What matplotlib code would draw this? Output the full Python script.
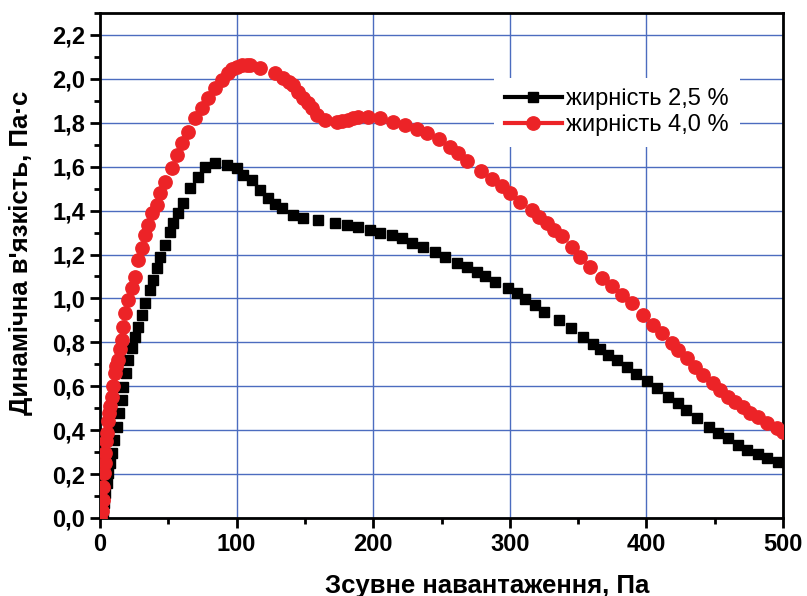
import matplotlib.pyplot as plt
from matplotlib.lines import Line2D
from matplotlib.ticker import MultipleLocator, FuncFormatter

# shear stress, Pa / dynamic viscosity, Pa*s  (fat 2.5 %)
x_25 = [0, 2.2, 2.9, 3.7, 5.1, 5.9, 7.3, 8.8, 10.2, 12.4, 13.9, 16.1, 16.8, 19.0,
        20.5, 23.4, 25.6, 27.8, 30.7, 33.0, 36.6, 38.8, 41.7, 43.9, 47.6, 51.2,
        53.4, 57.0, 60.8, 65.9, 71.7, 76.9, 84.2, 93.0, 100.3, 104.7, 111.3,
        117.1, 123.0, 128.0, 133.0, 141.0, 148.6, 159.6, 172.0, 180.8, 188.9,
        197.7, 205.0, 213.8, 221.0, 228.4, 236.5, 245.2, 252.6, 261.3, 268.7,
        276.0, 281.8, 289.2, 298.7, 305.3, 311.0, 318.4, 325.0, 336.0, 344.8,
        353.6, 361.0, 366.0, 371.9, 378.5, 385.8, 392.4, 400.4, 407.8, 415.8,
        423.1, 429.0, 437.0, 445.8, 452.4, 459.7, 467.0, 473.6, 481.7, 488.3,
        496.3]
y_25 = [0, 0.023, 0.068, 0.114, 0.16, 0.205, 0.25, 0.296, 0.355, 0.415, 0.478,
        0.538, 0.597, 0.66, 0.72, 0.774, 0.825, 0.87, 0.925, 0.98, 1.039, 1.084,
        1.139, 1.19, 1.244, 1.303, 1.344, 1.39, 1.435, 1.503, 1.554, 1.599, 1.617,
        1.608, 1.594, 1.563, 1.54, 1.494, 1.458, 1.43, 1.41, 1.38, 1.367, 1.358,
        1.344, 1.335, 1.326, 1.312, 1.298, 1.289, 1.276, 1.253, 1.235, 1.212,
        1.19, 1.162, 1.144, 1.121, 1.103, 1.075, 1.048, 1.025, 0.998, 0.97,
        0.939, 0.902, 0.866, 0.825, 0.793, 0.77, 0.743, 0.72, 0.688, 0.656,
        0.624, 0.592, 0.551, 0.524, 0.492, 0.456, 0.415, 0.387, 0.364, 0.333,
        0.31, 0.292, 0.273, 0.255]

# fat 4.0 %
x_40 = [0, 1.5, 2.0, 2.5, 2.9, 3.5, 4.0, 4.4, 5.0, 5.9, 6.5, 7.5, 8.8, 9.8, 11.0,
        12.0, 13.2, 14.5, 16.1, 16.8, 18.3, 20.5, 23.4, 25.6, 27.8, 30.7, 33.0,
        35.1, 38.0, 41.7, 43.9, 47.6, 52.7, 56.4, 60.0, 64.4, 69.5, 74.7, 79.0,
        84.2, 89.3, 93.7, 97.0, 100.3, 104.0, 107.6, 110.0, 117.1, 128.0, 134.0,
        138.0, 141.3, 145.0, 148.6, 152.0, 155.2, 158.9, 164.7, 173.5, 177.5,
        181.6, 185.0, 188.9, 196.2, 205.0, 214.5, 223.3, 232.0, 239.4, 248.2,
        256.2, 262.1, 268.7, 278.9, 287.0, 294.3, 300.1, 307.5, 316.3, 321.4,
        327.2, 332.4, 338.2, 345.5, 351.4, 358.7, 367.5, 374.8, 382.1, 389.5,
        397.5, 404.8, 411.4, 418.7, 423.1, 429.7, 435.6, 441.4, 448.8, 453.9,
        459.7, 464.9, 470.7, 475.8, 481.7, 488.3, 495.6, 500.0]
y_40 = [0, 0.03, 0.08, 0.14, 0.205, 0.25, 0.296, 0.35, 0.387, 0.44, 0.478, 0.51,
        0.55, 0.6, 0.66, 0.69, 0.72, 0.77, 0.81, 0.87, 0.934, 0.993, 1.048,
        1.098, 1.175, 1.23, 1.289, 1.335, 1.39, 1.426, 1.48, 1.531, 1.594, 1.654,
        1.708, 1.758, 1.822, 1.868, 1.913, 1.959, 1.995, 2.027, 2.045, 2.055,
        2.062, 2.064, 2.062, 2.05, 2.027, 2.005, 1.985, 1.973, 1.941, 1.913,
        1.89, 1.868, 1.836, 1.813, 1.804, 1.808, 1.813, 1.82, 1.827, 1.827,
        1.822, 1.804, 1.79, 1.772, 1.754, 1.727, 1.69, 1.663, 1.626, 1.581,
        1.544, 1.513, 1.481, 1.44, 1.403, 1.371, 1.344, 1.312, 1.285, 1.235,
        1.189, 1.144, 1.093, 1.057, 1.016, 0.979, 0.925, 0.879, 0.843, 0.797,
        0.765, 0.729, 0.688, 0.651, 0.615, 0.583, 0.551, 0.528, 0.506, 0.478,
        0.46, 0.433, 0.41, 0.392]

labels = ['жирність 2,5 %', 'жирність 4,0 %']
red = '#ec2327'
grid_blue = '#4c6cbf'

plt.rcParams['font.family'] = ['Liberation Sans', 'DejaVu Sans']

fig = plt.figure(figsize=(8.07, 5.96), dpi=100)
ax = fig.add_axes([0.1239, 0.1309, 0.8464, 0.8473])

ax.plot(x_25, y_25, ls='none', marker='s', ms=7.6, color='black', zorder=3)
ax.plot(x_40, y_40, ls='none', marker='o', ms=9.6, color=red, zorder=3)

ax.set_xlim(0, 500)
ax.set_ylim(0, 2.3)
ax.xaxis.set_major_locator(MultipleLocator(100))
ax.xaxis.set_minor_locator(MultipleLocator(50))
ax.yaxis.set_major_locator(MultipleLocator(0.2))
ax.yaxis.set_minor_locator(MultipleLocator(0.1))
ax.yaxis.set_major_formatter(FuncFormatter(lambda v, p: f'{v:.1f}'.replace('.', ',')))

ax.grid(True, which='major', color=grid_blue, lw=1.0, zorder=0)
ax.set_axisbelow(True)
for s in ax.spines.values():
    s.set_linewidth(2)
ax.tick_params(which='major', direction='out', length=7, width=2, labelsize=17)
ax.tick_params(which='minor', direction='out', length=4, width=2)
for lab in ax.get_xticklabels() + ax.get_yticklabels():
    lab.set_fontweight('bold')

ax.set_xlabel('Зсувне навантаження, Па', fontsize=18.5, fontweight='bold')
ax.xaxis.set_label_coords(0.567, -0.11)
ax.set_ylabel("Динамічна в'язкість, Па·с", fontsize=18.5, fontweight='bold')
ax.yaxis.set_label_coords(-0.098, 0.525)

handles = [
    Line2D([], [], color='black', lw=3, marker='s', ms=7.6),
    Line2D([], [], color=red, lw=3, marker='o', ms=9.6),
]
leg = ax.legend(handles, labels, loc='upper left', bbox_to_anchor=(0.56, 0.895),
                fontsize=17, frameon=True, facecolor='white', edgecolor='none',
                framealpha=1, fancybox=False, handlelength=2.4, handletextpad=0.2,
                borderpad=0.45, labelspacing=0.15)
leg.set_zorder(5)

fig.savefig('out.png', dpi=100)
